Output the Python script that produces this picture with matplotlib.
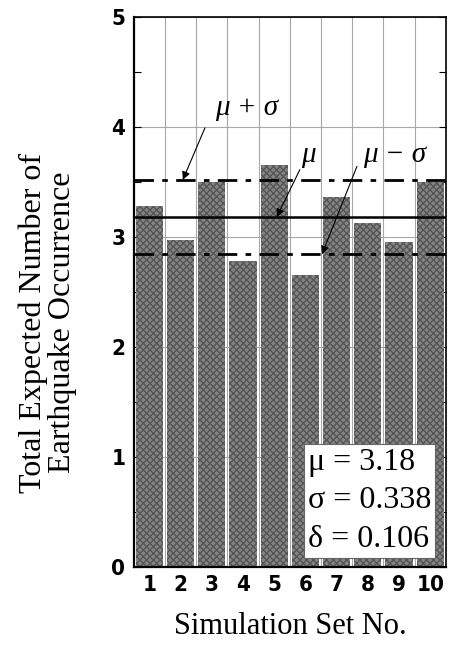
import matplotlib
matplotlib.use("Agg")
import matplotlib.pyplot as plt
from matplotlib import font_manager
from matplotlib.ticker import MultipleLocator

# values
sets = [1, 2, 3, 4, 5, 6, 7, 8, 9, 10]
occurrence = [3.28, 2.97, 3.50, 2.78, 3.65, 2.65, 3.36, 3.13, 2.95, 3.50]
mu = 3.18
sigma = 0.338
delta = 0.106

serif = "Liberation Serif"
names = {f.name for f in font_manager.fontManager.ttflist}
if "Liberation Sans Narrow" in names:
    tick_font = dict(family="Liberation Sans Narrow", weight="bold")
else:
    tick_font = dict(family="DejaVu Sans", weight="bold", stretch="condensed")

fig = plt.figure(figsize=(4.49, 6.45), dpi=100)
ax = fig.add_axes([0.298, 0.121, 0.695, 0.853])

ax.bar(sets, occurrence, width=0.87, color="#858585", hatch="xxxxx",
       edgecolor="#555555", linewidth=0, zorder=2)

# mean and +/- one sigma
ax.axhline(mu + sigma, color="k", lw=2, ls=(0, (7, 3, 2, 3)), zorder=3)
ax.axhline(mu, color="k", lw=1.8, zorder=3)
ax.axhline(mu - sigma, color="k", lw=2, ls=(0, (7, 3, 2, 3)), zorder=3)

arrow = dict(arrowstyle="-|>", color="k", lw=0.8, mutation_scale=12,
             shrinkA=0, shrinkB=0)
ax.text(4.1, 4.17, "μ + σ", ha="center", va="center", fontsize=21,
        family=serif, style="italic", zorder=4)
ax.annotate("", xy=(2.07, mu + sigma), xytext=(2.78, 3.99),
            arrowprops=arrow, zorder=4)
ax.text(6.08, 3.74, "μ", ha="center", va="center", fontsize=21,
        family=serif, style="italic", zorder=4)
ax.annotate("", xy=(5.08, mu), xytext=(5.82, 3.61), arrowprops=arrow, zorder=4)
ax.text(8.87, 3.74, "μ − σ", ha="center", va="center", fontsize=21,
        family=serif, style="italic", zorder=4)
ax.annotate("", xy=(6.53, mu - sigma), xytext=(7.65, 3.64),
            arrowprops=arrow, zorder=4)

ax.text(0.755, 0.12,
        "μ = %.2f\nσ = %.3f\nδ = %.3f" % (mu, sigma, delta),
        transform=ax.transAxes, ha="center", va="center",
        multialignment="left", fontsize=23, family=serif, linespacing=1.42,
        bbox=dict(boxstyle="square,pad=0.12", fc="white", ec="#666666",
                  lw=0.8), zorder=5)

ax.set_xlim(0.5, 10.5)
ax.set_ylim(0, 5)
ax.set_xticks(sets)
ax.set_xticks([s + 0.5 for s in sets[:-1]], minor=True)
ax.yaxis.set_major_locator(MultipleLocator(1))
ax.yaxis.set_minor_locator(MultipleLocator(0.5))
ax.grid(True, which="minor", axis="x", color="#a8a8a8", lw=0.8, zorder=1)
ax.grid(True, which="major", axis="y", color="#a8a8a8", lw=0.8, zorder=1)
ax.tick_params(axis="x", which="both", length=0, pad=6)
ax.tick_params(axis="y", which="both", direction="in", right=True,
               length=5, width=0.8, pad=6)
for lab in ax.get_xticklabels() + ax.get_yticklabels():
    lab.set_fontsize(16)
    lab.set(**tick_font)

for s in ax.spines.values():
    s.set_linewidth(1.2)
ax.spines["left"].set_linewidth(1.6)
ax.spines["bottom"].set_linewidth(1.6)

ax.set_xlabel("Simulation Set No.", fontsize=22, family=serif, labelpad=12)
fig.text(0.106, 0.50, "Total Expected Number of\nEarthquake Occurrence",
         rotation=90, ha="center", va="center", fontsize=23, family=serif,
         linespacing=1.0)

fig.savefig("out.png", dpi=100)
